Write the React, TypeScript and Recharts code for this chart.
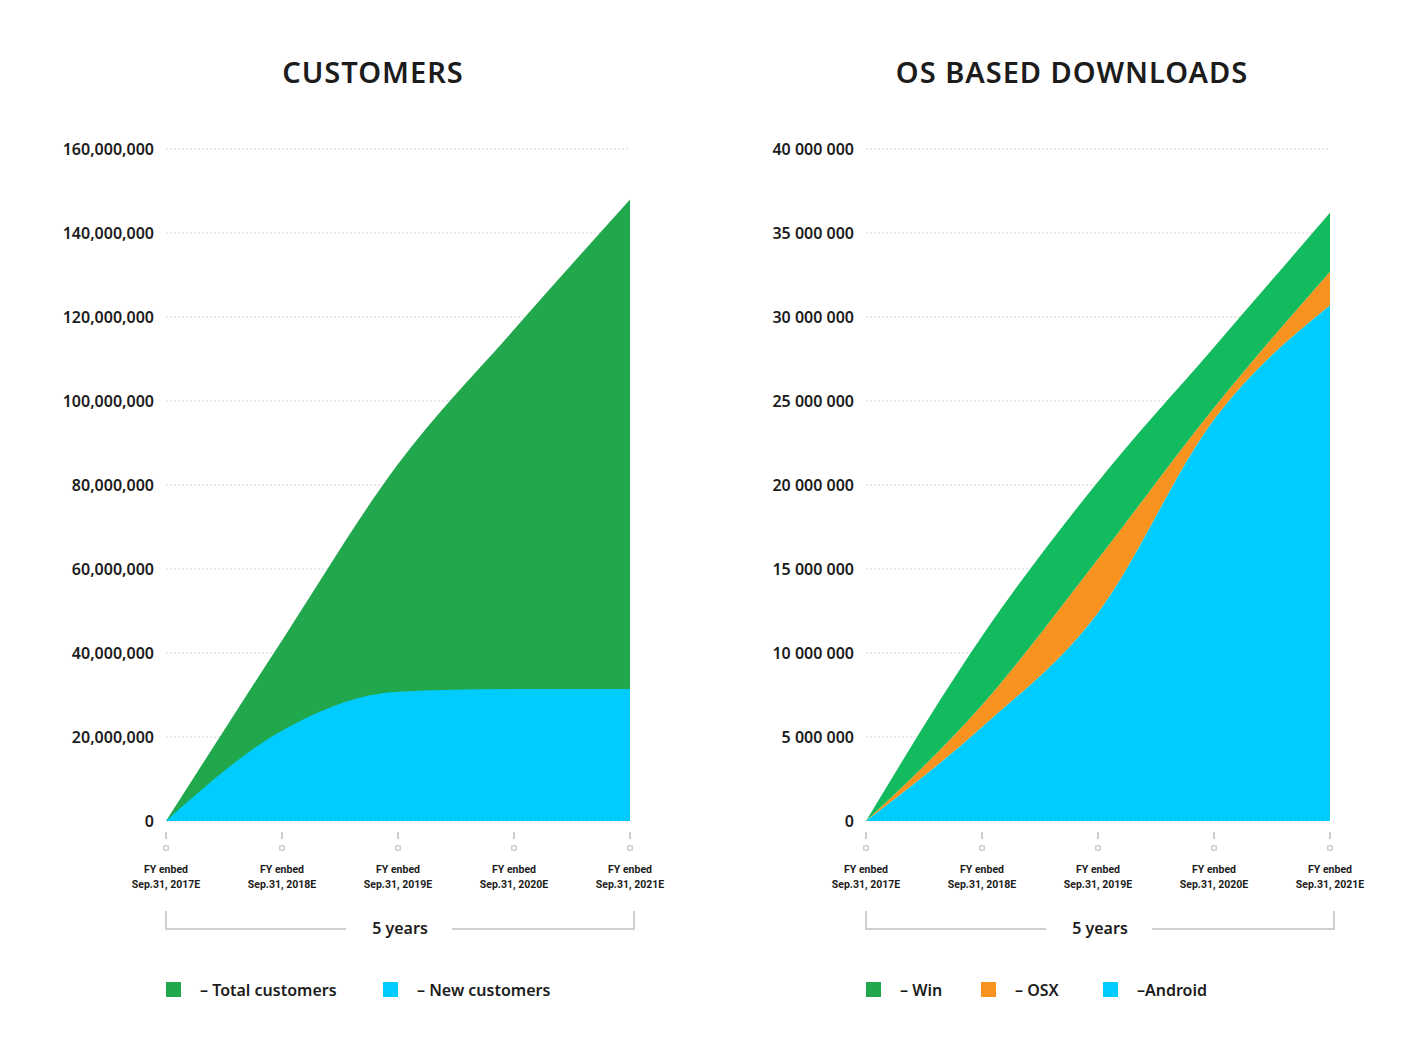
import { AreaChart, Area, XAxis, YAxis, CartesianGrid } from 'recharts';

// fiscal years on the x axis
const years = ['Sep.31, 2017E', 'Sep.31, 2018E', 'Sep.31, 2019E', 'Sep.31, 2020E', 'Sep.31, 2021E'];

// CUSTOMERS
const totalCustomers = [0, 43000000, 85000000, 117000000, 148000000];
const newCustomers = [0, 21500000, 30800000, 31400000, 31400000];
const customerTicks = [0, 20000000, 40000000, 60000000, 80000000, 100000000, 120000000, 140000000, 160000000];

// OS BASED DOWNLOADS (stacked)
const android = [0, 5600000, 12400000, 23900000, 30700000];
const osx = [0, 1300000, 3200000, 700000, 2000000];
const win = [0, 4100000, 4600000, 3600000, 3500000];
const downloadTicks = [0, 5000000, 10000000, 15000000, 20000000, 25000000, 30000000, 35000000, 40000000];

const customersData = years.map((year, i) => ({
  year,
  total: totalCustomers[i],
  fresh: newCustomers[i],
}));

const downloadsData = years.map((year, i) => ({
  year,
  android: android[i],
  osx: osx[i],
  win: win[i],
}));

const GREEN = '#22a84c';
const WIN_GREEN = '#12bb5e';
const BLUE = '#00ccff';
const ORANGE = '#f7931e';
const GRAY = '#cfcfcf';
const TEXT = '#1c1c1c';
const FONT = '"Noto Sans", sans-serif';

const withCommas = (v: number) => v.toLocaleString('en-US');
const withSpaces = (v: number) => v.toLocaleString('en-US').replace(/,/g, ' ');

function YearTick({ x, y, payload }: any) {
  return (
    <g transform={`translate(${x},${y})`}>
      <line x1={0} x2={0} y1={11} y2={18} stroke={GRAY} strokeWidth={2} />
      <circle cx={0} cy={27} r={2.5} fill="none" stroke={GRAY} strokeWidth={1.5} />
      <text textAnchor="middle" fill={TEXT} fontFamily="Roboto, sans-serif" fontWeight={700} fontSize={10.5}>
        <tspan x={0} y={52}>FY enbed</tspan>
        <tspan x={0} y={67}>{payload.value}</tspan>
      </text>
    </g>
  );
}

const chartProps = {
  width: 700,
  height: 900,
  margin: { top: 149, right: 70, bottom: 0, left: 0 },
};

function yAxis(ticks: number[], fmt: (v: number) => string) {
  return (
    <YAxis
      width={166}
      domain={[0, ticks[ticks.length - 1]]}
      ticks={ticks}
      interval={0}
      tickFormatter={fmt}
      axisLine={false}
      tickLine={false}
      tickSize={0}
      tickMargin={12}
      tick={{ fill: TEXT, fontFamily: FONT, fontWeight: 600, fontSize: 16 }}
    />
  );
}

function xAxis() {
  return (
    <XAxis
      dataKey="year"
      height={79}
      interval={0}
      axisLine={false}
      tickLine={false}
      tickSize={0}
      tickMargin={0}
      padding={{ left: 0, right: 0 }}
      tick={<YearTick />}
    />
  );
}

function Bracket({ x1, x2, mid }: { x1: number; x2: number; mid: number }) {
  return (
    <g>
      <polyline points={`${x1},911 ${x1},929 ${mid - 54},929`} fill="none" stroke={GRAY} strokeWidth={2} />
      <polyline points={`${mid + 52},929 ${x2},929 ${x2},911`} fill="none" stroke={GRAY} strokeWidth={2} />
      <text x={mid} y={934} textAnchor="middle" fill={TEXT} fontFamily={FONT} fontWeight={600} fontSize={16}>
        5 years
      </text>
    </g>
  );
}

function LegendItem({ x, color, label }: { x: number; color: string; label: string }) {
  return (
    <g>
      <rect x={x} y={982} width={15} height={15} fill={color} />
      <text x={x + 34} y={996} fill={TEXT} fontFamily={FONT} fontWeight={600} fontSize={16}>
        {label}
      </text>
    </g>
  );
}

export default function App() {
  return (
    <div style={{ position: 'absolute', left: 0, top: 0, width: 1418, height: 1056, background: '#fff' }}>
      <div style={{ position: 'absolute', left: 0, top: 0 }}>
        <AreaChart {...chartProps} data={customersData}>
          <CartesianGrid vertical={false} stroke="#d4d4d4" strokeDasharray="2 2" />
          {xAxis()}
          {yAxis(customerTicks, withCommas)}
          <Area type="monotone" dataKey="total" name="Total customers" stroke="none" fill={GREEN} fillOpacity={1} isAnimationActive={false} />
          <Area type="monotone" dataKey="fresh" name="New customers" stroke="none" fill={BLUE} fillOpacity={1} isAnimationActive={false} />
        </AreaChart>
      </div>
      <div style={{ position: 'absolute', left: 700, top: 0 }}>
        <AreaChart {...chartProps} data={downloadsData}>
          <CartesianGrid vertical={false} stroke="#d4d4d4" strokeDasharray="2 2" />
          {xAxis()}
          {yAxis(downloadTicks, withSpaces)}
          <Area type="monotone" dataKey="android" name="Android" stackId="os" stroke="none" fill={BLUE} fillOpacity={1} isAnimationActive={false} />
          <Area type="monotone" dataKey="osx" name="OSX" stackId="os" stroke="none" fill={ORANGE} fillOpacity={1} isAnimationActive={false} />
          <Area type="monotone" dataKey="win" name="Win" stackId="os" stroke="none" fill={WIN_GREEN} fillOpacity={1} isAnimationActive={false} />
        </AreaChart>
      </div>
      <svg width={1418} height={1056} style={{ position: 'absolute', left: 0, top: 0, pointerEvents: 'none' }}>
        <text x={373} y={83} textAnchor="middle" fill={TEXT} fontFamily={FONT} fontWeight={600} fontSize={29} letterSpacing={1}>
          CUSTOMERS
        </text>
        <text x={1072} y={83} textAnchor="middle" fill={TEXT} fontFamily={FONT} fontWeight={600} fontSize={29} letterSpacing={1}>
          OS BASED DOWNLOADS
        </text>
        <Bracket x1={166} x2={634} mid={400} />
        <Bracket x1={866} x2={1334} mid={1100} />
        <LegendItem x={166} color={GREEN} label="– Total customers" />
        <LegendItem x={383} color={BLUE} label="– New customers" />
        <LegendItem x={866} color={GREEN} label="– Win" />
        <LegendItem x={981} color={ORANGE} label="– OSX" />
        <LegendItem x={1103} color={BLUE} label="–Android" />
      </svg>
    </div>
  );
}
